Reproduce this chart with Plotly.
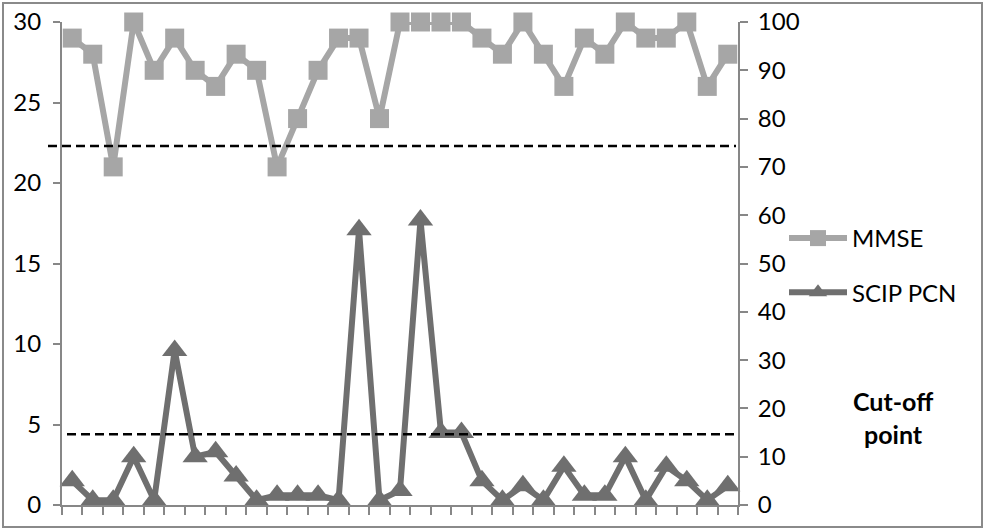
import plotly.graph_objects as go

# participant index along the category axis
participants = list(range(1, 34))

# MMSE score (left axis, 0-30)
mmse = [29, 28, 21, 30, 27, 29, 27, 26, 28, 27, 21, 24, 27, 29, 29, 24, 30,
        30, 30, 30, 29, 28, 30, 28, 26, 29, 28, 30, 29, 29, 30, 26, 28]

# SCIP PCN score (right axis, 0-100)
scip_pcn = [5, 1, 1, 10, 1, 32, 10, 11, 6, 1, 2, 2, 2, 1, 57, 1, 3,
            59, 15, 15, 5, 1, 4, 1, 8, 2, 2, 10, 1, 8, 5, 1, 4]

# cut-off points drawn as dashed lines (in left-axis units)
mmse_cutoff = 22.3
scip_cutoff = 4.4

W, H = 986, 530
L, R, T, B = 62, 738, 22, 505


def px_x(p):
    return (p - L) / (R - L)


def px_y(p):
    return (B - p) / (B - T)


font = 'Lato, "Open Sans", sans-serif'
axis_col = '#878787'

fig = go.Figure()

fig.add_trace(go.Scatter(
    x=participants, y=mmse, name='MMSE', mode='lines+markers',
    line=dict(color='#a6a6a6', width=6),
    marker=dict(symbol='square', size=19, color='#a6a6a6'),
    legendgroup='a', cliponaxis=False,
))

fig.add_trace(go.Scatter(
    x=participants, y=scip_pcn, name='SCIP PCN', mode='lines+markers',
    yaxis='y2',
    line=dict(color='#6f6f6f', width=6),
    marker=dict(symbol='triangle-up', size=22, color='#6f6f6f'),
    legendgroup='b', cliponaxis=False,
))

shapes = [
    # outer frame
    dict(type='rect', xref='paper', yref='paper',
         x0=px_x(3), x1=px_x(982), y0=px_y(527), y1=px_y(3),
         line=dict(color='#8a8a8a', width=2), layer='below'),
    # cut-off lines
    dict(type='line', xref='paper', yref='y',
         x0=px_x(48), x1=px_x(736), y0=mmse_cutoff, y1=mmse_cutoff,
         line=dict(color='black', width=2.5, dash='9px,5px')),
    dict(type='line', xref='paper', yref='y',
         x0=px_x(67), x1=px_x(738), y0=scip_cutoff, y1=scip_cutoff,
         line=dict(color='black', width=2.5, dash='9px,5px')),
]

fig.update_layout(
    width=W, height=H,
    margin=dict(l=L, r=W - R, t=T, b=H - B, autoexpand=False),
    paper_bgcolor='white', plot_bgcolor='white',
    font=dict(family=font, size=24, color='black'),
    showlegend=True,
    legend=dict(x=px_x(784), y=px_y(216), xanchor='left', yanchor='top',
                itemwidth=58, tracegroupgap=20, font=dict(size=24),
                bgcolor='rgba(0,0,0,0)'),
    xaxis=dict(range=[0.5, 33.5], tickmode='linear', tick0=0.5, dtick=1,
               showticklabels=False, ticks='outside', ticklen=8,
               tickcolor=axis_col, tickwidth=2, showline=True,
               linecolor=axis_col, linewidth=2, showgrid=False,
               zeroline=False, automargin=False),
    yaxis=dict(range=[0, 30], tickmode='linear', tick0=0, dtick=5,
               ticks='outside', ticklen=7, tickcolor=axis_col, tickwidth=2,
               showline=True, linecolor=axis_col, linewidth=2,
               showgrid=False, zeroline=False, tickfont=dict(size=24),
               ticklabelstandoff=7, automargin=False),
    yaxis2=dict(range=[0, 100], tickmode='linear', tick0=0, dtick=10,
                overlaying='y', side='right', ticks='outside', ticklen=8,
                tickcolor=axis_col, tickwidth=2, showline=True,
                linecolor=axis_col, linewidth=2, showgrid=False,
                zeroline=False, tickfont=dict(size=24),
                ticklabelstandoff=5, automargin=False),
    shapes=shapes,
    annotations=[dict(
        text='<b>Cut-off<br>point</b>', xref='paper', yref='paper',
        x=px_x(893), y=px_y(417), xanchor='center', yanchor='middle',
        showarrow=False, font=dict(size=25), align='center',
    )],
)

# page body has a default 8px margin; drop it so the figure sits at 0,0
fig.write_html("out.html", config={'displayModeBar': False},
               post_script="document.body.style.margin='0';")
